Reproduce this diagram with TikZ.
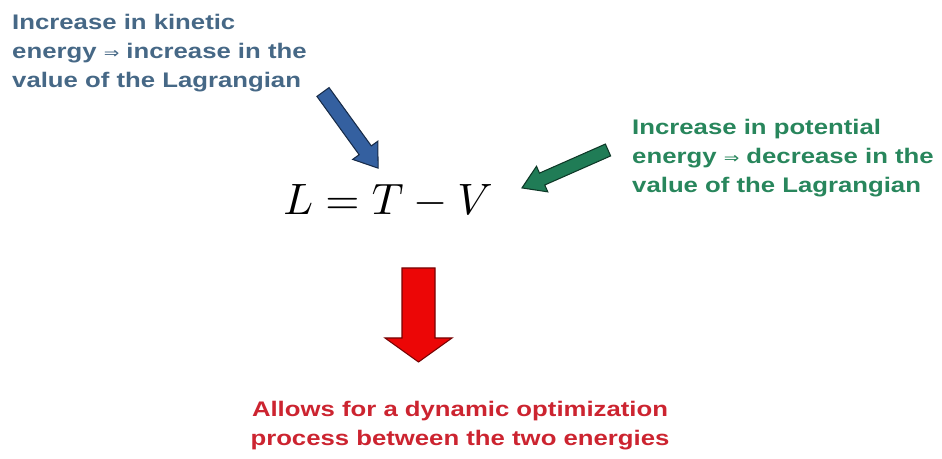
\documentclass[tikz,border=0pt]{standalone}
\usepackage{amssymb}
\usepackage{fontspec}
\setmainfont{Liberation Sans}
\newfontfamily\widesans[FakeStretch=1.22]{Liberation Sans}
\newfontfamily\symfont[FakeStretch=1.22]{DejaVu Sans}
\usepackage{tikz}

\definecolor{kinblue}{RGB}{70,104,134}
\definecolor{kinarrow}{RGB}{52,96,160}
\definecolor{potgreen}{RGB}{40,134,92}
\definecolor{potarrow}{RGB}{32,124,86}
\definecolor{resred}{RGB}{204,36,48}
\definecolor{resarrow}{RGB}{236,6,6}

% block arrow: style, tail, angle, length, shaft half width, head half width, head length
\newcommand{\bigarrow}[7]{%
  \filldraw[#1, shift={#2}, rotate=#3]
    (0,{-#5}) -- ({#4-#7},{-#5}) -- ({#4-#7},{-#6}) -- (#4,0)
    -- ({#4-#7},#6) -- ({#4-#7},#5) -- (0,#5) -- cycle;}
\newcommand{\implies}{{\symfont\mdseries\fontsize{13}{13}\selectfont ⇒}}

\tikzset{
  note/.style={inner sep=0pt, align=left, font=\widesans\bfseries\fontsize{18}{24.7}\selectfont},
  outline/.style={line width=0.9pt, line join=miter}
}

\begin{document}
\begin{tikzpicture}[x=0.03cm, y=-0.03cm]
			\useasboundingbox (0,0) rectangle (942,459);
			
			\node[note, text=kinblue, anchor=north west] (kinetic) at (12,14)
				{Increase in kinetic\\energy \implies{} increase in the\\value of the Lagrangian};
			\node[note, text=potgreen, anchor=north west] (potential) at (632,119)
				{Increase in potential\\energy \implies{} decrease in the\\value of the Lagrangian};
			\node[inner sep=0pt, scale=3.75, anchor=base] (lagrangian) at (388,215) {$L = T - V$};
			\node[note, text=resred, align=center, anchor=north] (result) at (460,401)
				{Allows for a dynamic optimization\\process between the two energies};
			
			\bigarrow{outline, fill=kinarrow, draw=kinarrow!45!black}{(323,92)}{-54.1}{94}{7.5}{15.5}{22}
			\bigarrow{outline, fill=potarrow, draw=potarrow!45!black}{(608,150)}{-156.2}{94}{6.5}{14}{22}
			\bigarrow{outline, fill=resarrow, draw=resarrow!50!black}{(418.5,268)}{-90}{94}{16.5}{33.5}{24}
		\end{tikzpicture}
\end{document}
